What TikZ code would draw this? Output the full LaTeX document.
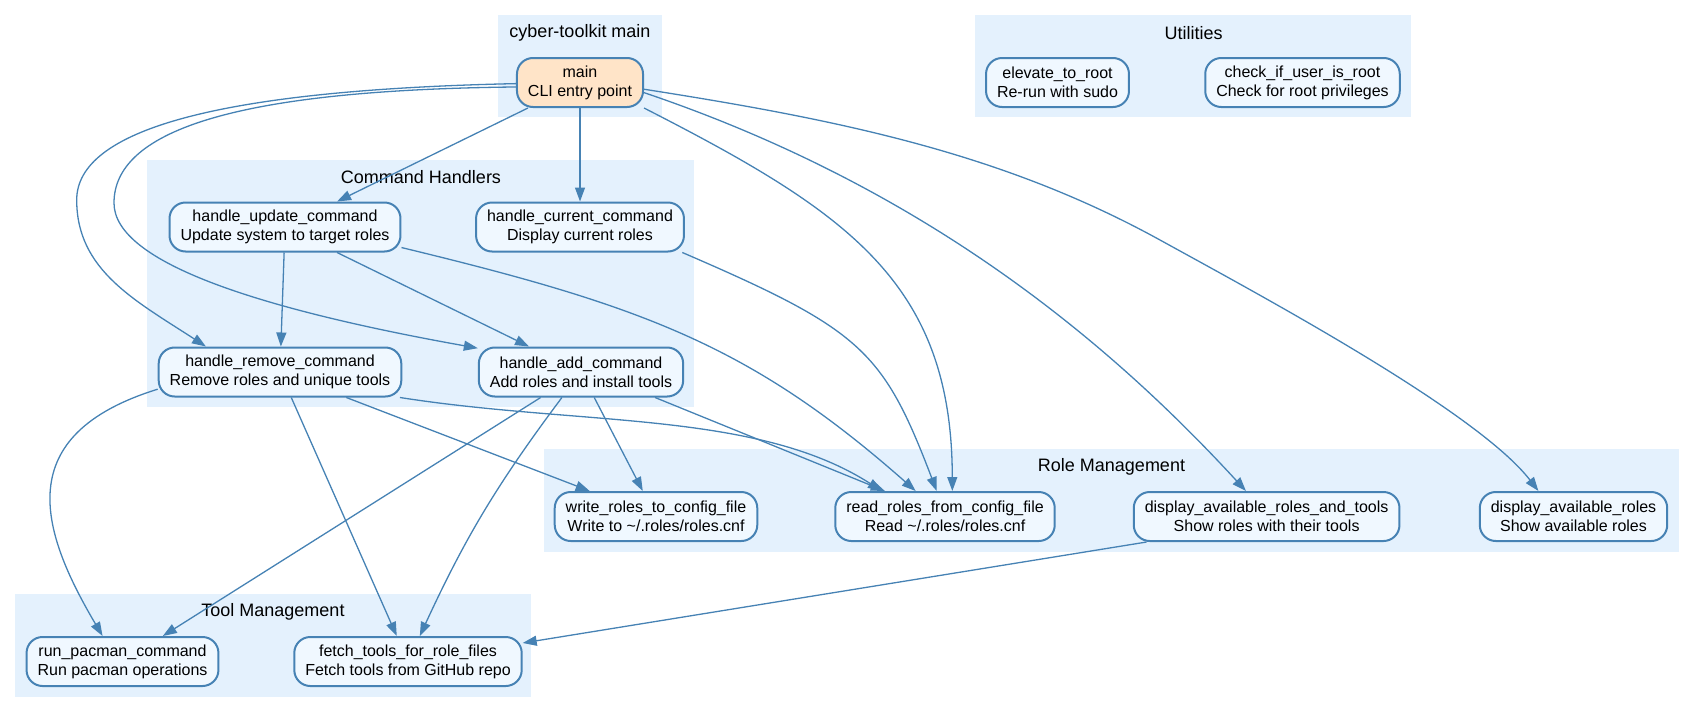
\documentclass[tikz,border=0pt]{standalone}
\usepackage{fontspec}
\setmainfont{Liberation Sans}
\usepackage{tikz}
\usetikzlibrary{arrows.meta}
\usepackage{xcolor}
\definecolor{edgeblue}{HTML}{4682B4}
\definecolor{groupfill}{HTML}{E4F1FD}
\definecolor{nodefill}{HTML}{F0F8FF}
\definecolor{entryfill}{HTML}{FFE4C8}

\begin{document}
\begin{tikzpicture}[x=0.5pt, y=-0.5pt,
    func/.style={draw=edgeblue, line width=1pt, fill=nodefill, rounded corners=8pt,
      align=center, inner xsep=5.5pt, minimum height=24.5pt, font=\fontsize{8}{9.5}\selectfont},
    entry/.style={func, fill=entryfill},
    group/.style={fill=groupfill},
    grouplabel/.style={font=\fontsize{9}{11}\selectfont},
    link/.style={draw=edgeblue, line width=0.65pt, -{Triangle[length=7pt,width=5pt]}}]
\useasboundingbox (0,0) rectangle (1695,712);
\fill[group] (498,15) rectangle (662,117);
\fill[group] (975,15) rectangle (1411,117);
\fill[group] (147,160) rectangle (694,407);
\fill[group] (544,449) rectangle (1679,552);
\fill[group] (15,594) rectangle (531,697);
\node[grouplabel] (lmain) at (580,33) {cyber-toolkit main};
\node[grouplabel] (lutil) at (1193.5,33) {Utilities};
\node[grouplabel] (lcmd) at (421,177) {Command Handlers};
\node[grouplabel] (lrole) at (1111.5,467) {Role Management};
\node[grouplabel] (ltool) at (273,612) {Tool Management};
\node[entry] (main) at (580,82.5) {main\\CLI entry point};
\node[func] (elevate) at (1057.5,82.5) {elevate\_to\_root\\Re-run with sudo};
\node[func] (rootcheck) at (1302.5,82.5) {check\_if\_user\_is\_root\\Check for root privileges};
\node[func] (update) at (285,227) {handle\_update\_command\\Update system to target roles};
\node[func] (current) at (580,227) {handle\_current\_command\\Display current roles};
\node[func] (remove) at (280,372) {handle\_remove\_command\\Remove roles and unique tools};
\node[func] (add) at (581,372) {handle\_add\_command\\Add roles and install tools};
\node[func] (write) at (656,516.5) {write\_roles\_to\_config\_file\\Write to \textasciitilde/.roles/roles.cnf};
\node[func] (read) at (945,516.5) {read\_roles\_from\_config\_file\\Read \textasciitilde/.roles/roles.cnf};
\node[func] (rolestools) at (1266.6,516.5) {display\_available\_roles\_and\_tools\\Show roles with their tools};
\node[func] (roles) at (1573.5,516.5) {display\_available\_roles\\Show available roles};
\node[func] (pacman) at (122.5,661.5) {run\_pacman\_command\\Run pacman operations};
\node[func] (fetch) at (408,661.5) {fetch\_tools\_for\_role\_files\\Fetch tools from GitHub repo};
\foreach \a/\b in {main/update, main/current, update/remove, update/add, remove/fetch, remove/write, add/pacman, add/write}
    \draw[link] (\a) -- (\b);
\draw[link] (add.-19) -- (read.157);
\draw[link] (add) to[bend right=6] (fetch);
\draw[link] (rolestools.192) -- (fetch);
\draw[link] (main.181) .. controls (217,90) and (76.7,130) .. (76.7,200) .. controls (76.7,270) and (134.7,300.3) .. (remove.161);
\draw[link] (main.184) .. controls (227,90) and (114,133) .. (114,203) .. controls (114,263) and (261.7,309.5) .. (add.167);
\draw[link] (main.south east) .. controls (846.7,211.7) and (952,282) .. (read.74);
\draw[link] (main.-9) .. controls (927.4,188.4) and (1110.7,344) .. (rolestools.129);
\draw[link] (main.-6) .. controls (840.6,120) and (1002.3,153.2) .. (1160,240) .. controls (1265,297.8) and (1477.5,412) .. (roles.144);
\draw[link] (update.-10) .. controls (642.5,305.75) and (751,345.7) .. (read.139);
\draw[link] (current.-14) .. controls (862,330) and (883,350.5) .. (read.108);
\draw[link] (remove.-12) .. controls (582,426) and (756.5,410.5) .. (read.158);
\draw[link] (remove.188) .. controls (10,435) and (40,530) .. (pacman.128);
\end{tikzpicture}
\end{document}
